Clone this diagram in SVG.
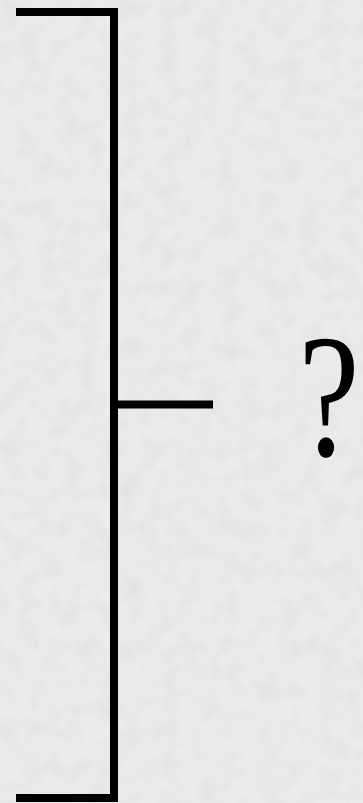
<svg xmlns="http://www.w3.org/2000/svg" width="363" height="803" viewBox="0 0 363 803">
  <defs>
    <filter id="noise" x="0" y="0" width="100%" height="100%">
      <feTurbulence type="fractalNoise" baseFrequency="0.05" numOctaves="3" seed="4" result="t"/>
      <feColorMatrix in="t" type="matrix" values="0 0 0 0 0.5  0 0 0 0 0.5  0 0 0 0 0.5  0 0 0 -0.9 0.55" result="n"/>
      <feComposite in="n" in2="SourceGraphic" operator="in"/>
    </filter>
    <style>
      .br { fill: none; stroke: #000; stroke-width: 8; stroke-linecap: butt; stroke-linejoin: miter; }
    </style>
  </defs>
  <rect width="363" height="803" fill="#ebebeb"/>
  <rect width="363" height="803" fill="#ebebeb" filter="url(#noise)" opacity="0.35"/>
  <g id="bracket">
    <path class="br" d="M16,12 H114 V798 H16"/>
  </g>
  <g id="connectors">
    <line class="br" x1="114" y1="404.5" x2="213" y2="404.5"/>
  </g>
  <g id="unknown">
    <text transform="translate(329,456) scale(0.8,1.02)" x="0" y="0" text-anchor="middle" font-family="'Liberation Serif', serif" font-size="172" fill="#000">?</text>
  </g>
</svg>
